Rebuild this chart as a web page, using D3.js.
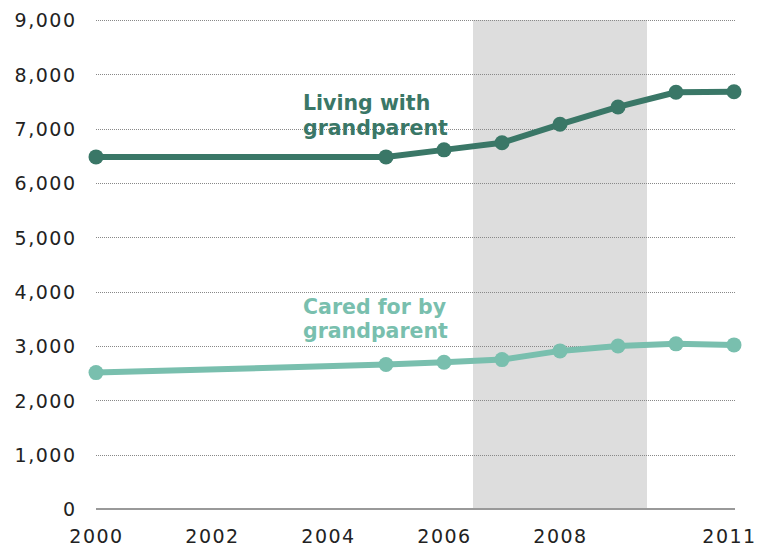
<!DOCTYPE html>
<html>
<head>
<meta charset="UTF-8">
<title></title>
<script src="https://cdn.jsdelivr.net/npm/d3@7"></script>
<style>
  body { margin: 0; background: #fff; }
  text { font-family: "DejaVu Sans", Verdana, sans-serif; }
</style>
</head>
<body>
<div id="chart"></div>
<script>
// data
var years = [2000, 2005, 2006, 2007, 2008, 2009, 2010, 2011];
var living = [6480, 6480, 6610, 6740, 7080, 7400, 7670, 7680];
var cared = [2510, 2660, 2700, 2750, 2910, 3000, 3040, 3020];
var yTicks = [0, 1000, 2000, 3000, 4000, 5000, 6000, 7000, 8000, 9000];
var xTicks = [2000, 2002, 2004, 2006, 2008, 2011];
var recession = [2006.5, 2009.5];

var width = 760, height = 548;
var margin = {top: 20, right: 25, bottom: 39, left: 96};

var svg = d3.select("#chart").append("svg")
  .attr("width", width)
  .attr("height", height);

var x = d3.scaleLinear().domain([2000, 2011]).range([margin.left, width - margin.right - 1]);
var y = d3.scaleLinear().domain([0, 9000]).range([height - margin.bottom, margin.top]);

// shaded period
svg.append("rect")
  .attr("x", x(recession[0]))
  .attr("y", y(9000))
  .attr("width", x(recession[1]) - x(recession[0]))
  .attr("height", y(0) - y(9000))
  .attr("fill", "#dddddd");

// dotted grid lines
svg.append("g").selectAll("line")
  .data(yTicks.filter(function(d){ return d > 0; }))
  .join("line")
  .attr("x1", x(2000))
  .attr("x2", x(2011) + 1)
  .attr("y1", function(d){ return Math.round(y(d)) + 0.5; })
  .attr("y2", function(d){ return Math.round(y(d)) + 0.5; })
  .attr("stroke", "#888")
  .attr("stroke-width", 1)
  .attr("stroke-dasharray", "1,1");

// zero line
svg.append("line")
  .attr("x1", x(2000)).attr("x2", x(2011) + 1)
  .attr("y1", y(0)).attr("y2", y(0))
  .attr("stroke", "#999").attr("stroke-width", 2);

// y axis labels
var yAxis = d3.axisLeft(y).tickValues(yTicks).tickSize(0).tickPadding(0)
  .tickFormat(d3.format(","));
svg.append("g")
  .attr("transform", "translate(76.5,0)")
  .call(yAxis)
  .call(function(g){ g.select(".domain").remove(); })
  .selectAll("text")
  .attr("font-size", 19)
  .attr("fill", "#222")
  .attr("letter-spacing", 1.5)
  .attr("font-family", "'DejaVu Sans', Verdana, sans-serif")
  .attr("dy", "0.36em");

// x axis labels
var xAxis = d3.axisBottom(x).tickValues(xTicks).tickSize(0).tickPadding(0)
  .tickFormat(d3.format("d"));
svg.append("g")
  .attr("transform", "translate(0," + (y(0) + 20) + ")")
  .call(xAxis)
  .call(function(g){ g.select(".domain").remove(); })
  .selectAll("text")
  .attr("font-size", 19)
  .attr("fill", "#222")
  .attr("letter-spacing", 1.5)
  .attr("font-family", "'DejaVu Sans', Verdana, sans-serif")
  .attr("dx", function(d){ return d === 2011 ? -5 : 0; });

var series = [
  {name: "living", values: living, color: "#3a7767", label: ["Living with", "grandparent"], ly: [110, 135]},
  {name: "cared", values: cared, color: "#79bfae", label: ["Cared for by", "grandparent"], ly: [314, 338]}
];

var line = d3.line()
  .x(function(d, i){ return x(years[i]); })
  .y(function(d){ return y(d); });

series.forEach(function(s){
  svg.append("path")
    .datum(s.values)
    .attr("fill", "none")
    .attr("stroke", s.color)
    .attr("stroke-width", 6)
    .attr("stroke-linejoin", "round")
    .attr("d", line);

  svg.append("g").selectAll("circle")
    .data(s.values)
    .join("circle")
    .attr("cx", function(d, i){ return x(years[i]); })
    .attr("cy", function(d){ return y(d); })
    .attr("r", 7.5)
    .attr("fill", s.color);

  svg.append("g").selectAll("text")
    .data(s.label)
    .join("text")
    .attr("x", 303)
    .attr("y", function(d, i){ return s.ly[i]; })
    .attr("fill", s.color)
    .attr("font-size", 20.5)
    .attr("font-weight", "bold")
    .text(function(d){ return d; });
});
</script>
</body>
</html>
